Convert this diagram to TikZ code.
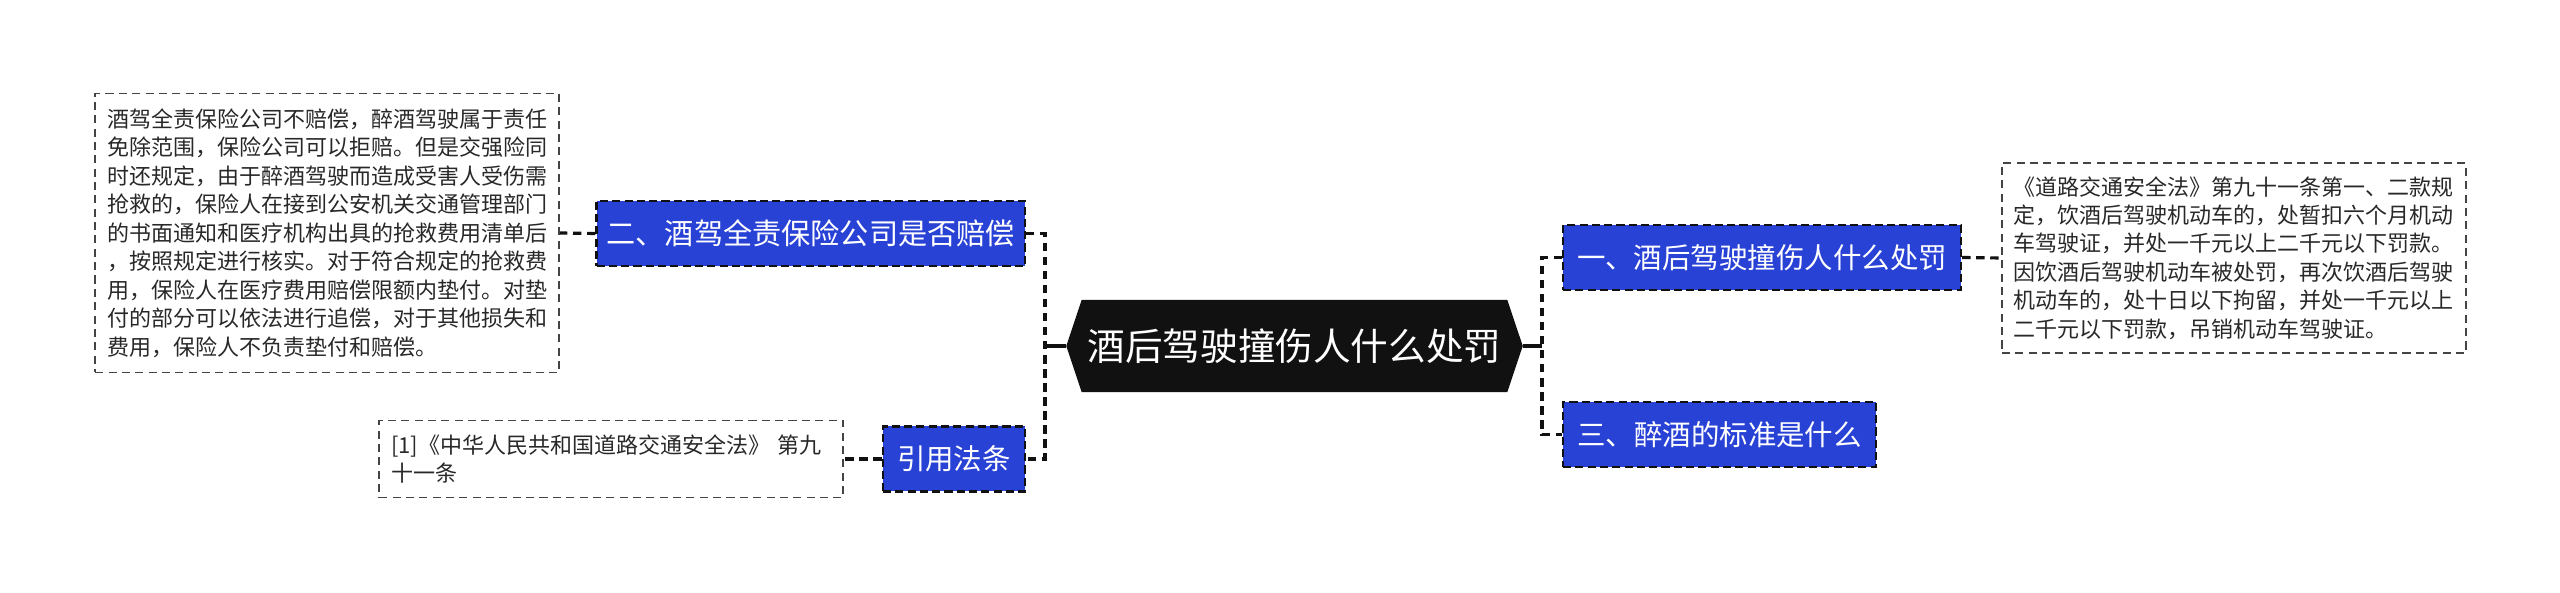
\documentclass[tikz,border=0pt]{standalone}
\usepackage{fontspec}
\newfontfamily\cjk{Noto Sans CJK SC}
\usepackage{tikz}
\usetikzlibrary{shapes.symbols, positioning}
\definecolor{royal}{RGB}{41, 66, 214}
\definecolor{ink}{RGB}{17, 17, 17}
\definecolor{edge}{RGB}{68, 68, 68}
\definecolor{body}{RGB}{40, 40, 40}

\begin{document}
\begin{tikzpicture}[x=1cm, y=1cm,
  hub/.style={signal, signal to=west and east, signal pointer angle=143,
    fill=ink, draw=ink, text=white,
    minimum width=4.55cm, minimum height=0.91cm, inner sep=0pt,
    font=\cjk\fontsize{10.7pt}{12pt}\selectfont},
  bbox/.style={rectangle, fill=royal, draw=ink, line width=0.6pt,
    dash pattern=on 2.3pt off 1.2pt,
    minimum height=0.65cm, inner xsep=0.13cm, text=white,
    font=\cjk\fontsize{8.1pt}{10pt}\selectfont},
  tbox/.style={rectangle, draw=edge, line width=0.45pt,
    dash pattern=on 2.3pt off 1.5pt,
    text width=4.4cm, align=left, inner xsep=0.12cm, text=body,
    font=\cjk\fontsize{6.26pt}{8.1pt}\selectfont},
  dlink/.style={draw=ink, line width=0.9pt, dash pattern=on 2.4pt off 1.6pt},
  slink/.style={draw=ink, line width=0.9pt}
]
\useasboundingbox (0,0) rectangle (25.60,-5.93);
\node[hub] at (12.945,-3.46) (main) {酒后驾驶撞伤人什么处罚};
\node[bbox, anchor=east, minimum width=4.27cm, inner xsep=0.1cm,
      font=\cjk\fontsize{8.3pt}{10pt}\selectfont] at (10.26,-2.335) (q2) {二、酒驾全责保险公司是否赔偿};
\node[bbox, anchor=east, minimum width=1.42cm] at (10.26,-4.59)  (cite) {引用法条};
\node[bbox, anchor=west, minimum width=3.98cm] at (15.62,-2.575) (q1)   {一、酒后驾驶撞伤人什么处罚};
\node[bbox, anchor=west, minimum width=3.13cm] at (15.62,-4.345) (q3)   {三、醉酒的标准是什么};
\node[tbox, anchor=east, minimum height=2.79cm] at (5.60,-2.33) (n2) {酒驾全责保险公司不赔偿，醉酒驾驶属于责任\\免除范围，保险公司可以拒赔。但是交强险同\\时还规定，由于醉酒驾驶而造成受害人受伤需\\抢救的，保险人在接到公安机关交通管理部门\\的书面通知和医疗机构出具的抢救费用清单后\\，按照规定进行核实。对于符合规定的抢救费\\用，保险人在医疗费用赔偿限额内垫付。对垫\\付的部分可以依法进行追偿，对于其他损失和\\费用，保险人不负责垫付和赔偿。};
\node[tbox, anchor=east, minimum height=0.77cm] at (8.44,-4.59) (ncite) {[1]《中华人民共和国道路交通安全法》 第九\\十一条};
\node[tbox, anchor=west, minimum height=1.90cm] at (20.01,-2.58) (n1) {《道路交通安全法》第九十一条第一、二款规\\定，饮酒后驾驶机动车的，处暂扣六个月机动\\车驾驶证，并处一千元以上二千元以下罚款。\\因饮酒后驾驶机动车被处罚，再次饮酒后驾驶\\机动车的，处十日以下拘留，并处一千元以上\\二千元以下罚款，吊销机动车驾驶证。};
\coordinate (lbr) at (10.45,-3.46);
\coordinate (rbr) at (15.42,-3.46);
\draw[slink] (main.west) -- (lbr);
\draw[slink] (main.east) -- (rbr);
\draw[dlink] (q2.east) -| (lbr) |- (cite.east);
\draw[dlink] (q1.west) -| (rbr) |- (q3.west);
\draw[dlink] (q2.west) -- (n2.east);
\draw[dlink] (cite.west) -- (ncite.east);
\draw[dlink] (q1.east) -- (n1.west);
\end{tikzpicture}
\end{document}
